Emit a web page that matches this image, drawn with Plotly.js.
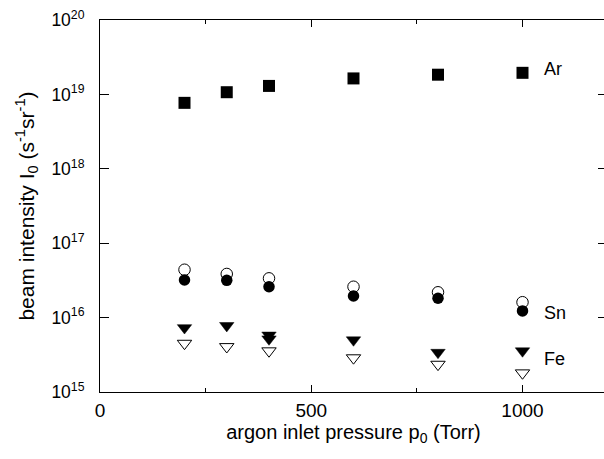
<!DOCTYPE html>
<html>
<head>
<meta charset="utf-8">
<script src="https://cdn.plot.ly/plotly-3.0.1.min.js"></script>
<style>
html, body { margin: 0; padding: 0; overflow: hidden; background: #fff; }
#chart { width: 612px; height: 459px; }
</style>
</head>
<body>
<div id="chart"></div>
<script>
// Data
const pressure = [200, 300, 400, 600, 800, 1000];
const arIntensity = [7.7e18, 1.07e19, 1.30e19, 1.64e19, 1.84e19, 1.95e19];
const snOpen = [4.4e16, 3.86e16, 3.37e16, 2.6e16, 2.19e16, 1.61e16];
const snFilled = [3.2e16, 3.17e16, 2.6e16, 1.95e16, 1.82e16, 1.23e16];
const fePressure = [200, 300, 400, 400, 600, 800, 1000];
const feFilled = [7.3e15, 7.8e15, 5.8e15, 5.15e15, 5.0e15, 3.4e15, 3.56e15];
const feOpen = [4.5e15, 4.06e15, 3.56e15, 2.87e15, 2.35e15, 1.8e15];

const yTickVals = [1e15, 1e16, 1e17, 1e18, 1e19, 1e20];
const yTickText = ["10<sup>15</sup>", "10<sup>16</sup>", "10<sup>17</sup>", "10<sup>18</sup>", "10<sup>19</sup>", "10<sup>20</sup>"];
const xTickVals = [0, 500, 1000];

const labels = [
  {text: "Ar", y: 19.34},
  {text: "Sn", y: 16.06},
  {text: "Fe", y: 15.45}
];

const FONT = "Arial, 'Liberation Sans', Helvetica, sans-serif";

const traces = [
  {x: pressure, y: snOpen, mode: "markers", type: "scatter",
   marker: {symbol: "circle", size: 11.5, color: "#ffffff", line: {color: "#000", width: 1}}},
  {x: pressure, y: snFilled, mode: "markers", type: "scatter",
   marker: {symbol: "circle", size: 11.5, color: "#000", line: {width: 0}}},
  {x: pressure, y: feOpen, mode: "markers", type: "scatter",
   marker: {symbol: "triangle-down", size: 12.5, color: "#ffffff", line: {color: "#000", width: 1}}},
  {x: fePressure, y: feFilled, mode: "markers", type: "scatter",
   marker: {symbol: "triangle-down", size: 12.5, color: "#000", line: {color: "#000", width: 0.5}}},
  {x: pressure, y: arIntensity, mode: "markers", type: "scatter",
   marker: {symbol: "square", size: 12, color: "#000", line: {width: 0}}}
];

const layout = {
  width: 612, height: 459,
  margin: {l: 100, r: 5, t: 20, b: 67},
  paper_bgcolor: "#fff", plot_bgcolor: "#fff",
  showlegend: false,
  font: {family: FONT, size: 19, color: "#000"},
  xaxis: {
    range: [0, 1200],
    tickvals: xTickVals,
    ticks: "inside", ticklen: 7, tickwidth: 1, tickcolor: "#000",
    minor: {tickvals: [250, 750], ticks: "inside", ticklen: 4, tickwidth: 1, tickcolor: "#000", showgrid: false},
    showline: true, linecolor: "#000", linewidth: 1, mirror: "ticks",
    showgrid: false, zeroline: false,
    tickfont: {family: FONT, size: 19, color: "#000"},
    ticklabelstandoff: 1,
    title: {text: "argon inlet pressure p<sub>0</sub> (Torr)", font: {family: FONT, size: 20, color: "#000"}, standoff: 1}
  },
  yaxis: {
    type: "log",
    range: [15, 20],
    tickvals: yTickVals, ticktext: yTickText,
    ticks: "inside", ticklen: 9, tickwidth: 1, tickcolor: "#000",
    showline: true, linecolor: "#000", linewidth: 1, mirror: "ticks",
    showgrid: false, zeroline: false,
    tickfont: {family: FONT, size: 17.5, color: "#000"},
    ticklabelstandoff: 11,
    title: {text: "beam intensity I<sub>0</sub> (s<sup>-1</sup>sr<sup>-1</sup>)", font: {family: FONT, size: 21, color: "#000"}, standoff: 11}
  },
  annotations: labels.map(l => ({
    x: 1045, y: l.y, xref: "x", yref: "y", text: l.text,
    showarrow: false, xanchor: "left", yanchor: "middle",
    font: {family: FONT, size: 18, color: "#000"}
  }))
};

Plotly.newPlot("chart", traces, layout, {displayModeBar: false, staticPlot: true});
</script>
</body>
</html>
